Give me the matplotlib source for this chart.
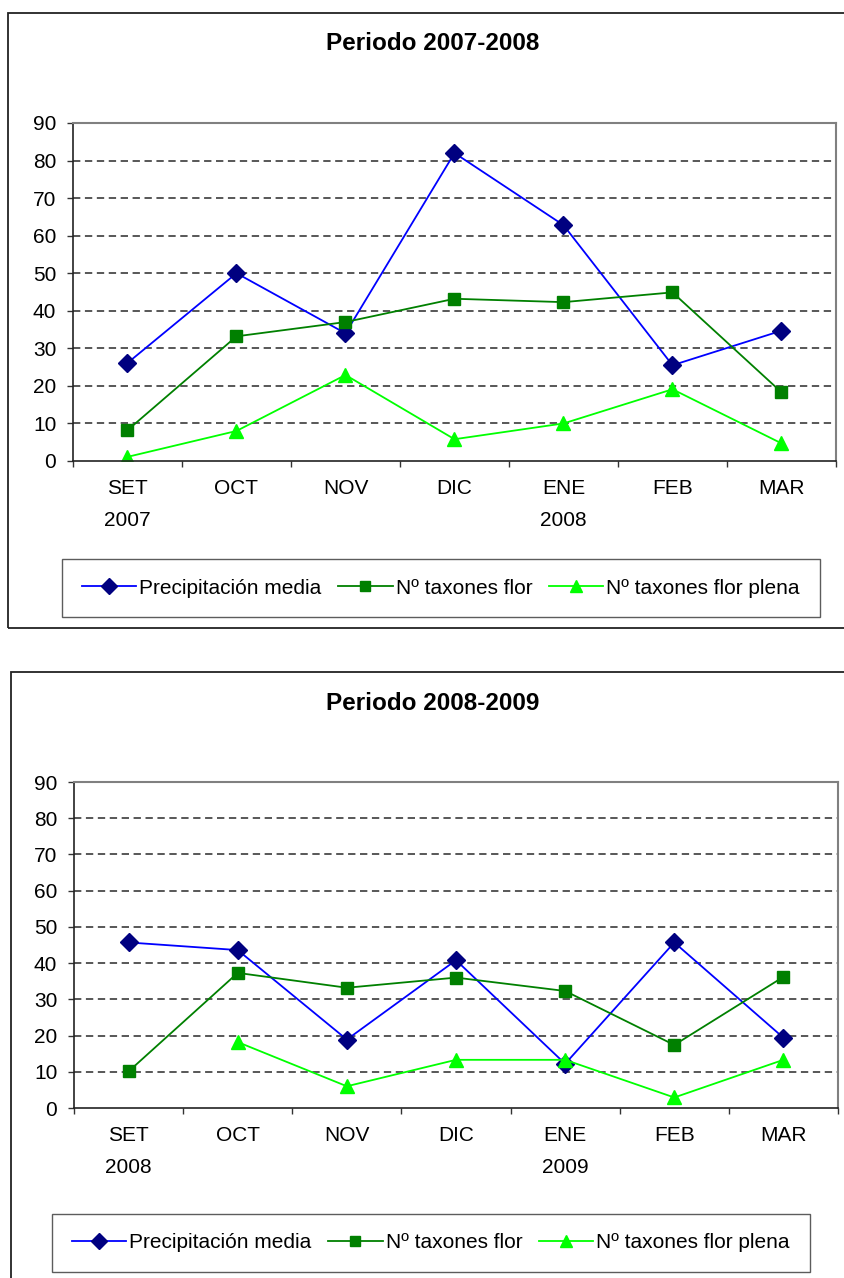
import numpy as np
import matplotlib
matplotlib.use('Agg')
import matplotlib.pyplot as plt
from matplotlib.patches import Rectangle
from matplotlib.ticker import FixedLocator

plt.rcParams['font.family'] = ['Liberation Sans', 'DejaVu Sans']

months = ['SET', 'OCT', 'NOV', 'DIC', 'ENE', 'FEB', 'MAR']
y_ticks = [0, 10, 20, 30, 40, 50, 60, 70, 80, 90]

# Periodo 2007-2008
title_1 = 'Periodo 2007-2008'
years_1 = ['2007', '2008']
precip_1 = [26.1, 50.0, 34.0, 82.0, 62.8, 25.5, 34.7]
flor_1 = [8.2, 33.2, 37.0, 43.2, 42.3, 44.9, 18.3]
plena_1 = [1.1, 8.0, 22.9, 5.8, 10.0, 19.1, 4.7]

# Periodo 2008-2009 (sin dato de flor plena en septiembre)
title_2 = 'Periodo 2008-2009'
years_2 = ['2008', '2009']
precip_2 = [45.7, 43.6, 18.9, 40.8, 12.2, 45.7, 19.4]
flor_2 = [10.1, 37.3, 33.2, 36.0, 32.3, 17.4, 36.2]
plena_2 = [np.nan, 18.2, 6.0, 13.3, 13.3, 2.9, 13.3]

legend_labels = ['Precipitación media', 'Nº taxones flor', 'Nº taxones flor plena']

W, H = 845, 1278
fig = plt.figure(figsize=(W / 100, H / 100), dpi=100)


def px_box(left, top, right, bottom):
    # pixel box (from top-left) -> figure fraction rect
    return [left / W, 1 - bottom / H, (right - left) / W, (bottom - top) / H]


def draw_period(plot_px, frame_px, title, title_y, years, precip, flor, plena, leg_center):
    # chart area frame
    fl, ft, fr, fb = frame_px
    fig.add_artist(Rectangle((fl / W, 1 - fb / H), (fr - fl) / W, (fb - ft) / H,
                             transform=fig.transFigure, fill=False,
                             edgecolor='#222222', linewidth=1.3, clip_on=False))

    ax = fig.add_axes(px_box(*plot_px))
    x = np.arange(len(months))

    l1, = ax.plot(x, precip, color='#0000FF', lw=1.3, marker='D', ms=9,
                  mfc='#000080', mec='#000080')
    l2, = ax.plot(x, flor, color='#008000', lw=1.3, marker='s', ms=8.5,
                  mfc='#008000', mec='#008000')
    l3, = ax.plot(x, plena, color='#00FF00', lw=1.3, marker='^', ms=10,
                  mfc='#00FF00', mec='#00FF00')

    ax.set_xlim(-0.5, len(months) - 0.5)
    ax.set_ylim(0, 90)
    ax.set_yticks(y_ticks)
    ax.set_yticklabels([str(v) for v in y_ticks])
    ax.set_xticks(x)
    ax.set_xticklabels(months)
    ax.xaxis.set_minor_locator(FixedLocator(np.arange(-0.5, len(months), 1.0)))

    ax.tick_params(axis='x', which='major', length=0, pad=13, labelsize=15)
    ax.tick_params(axis='x', which='minor', length=4.5, width=1, color='#333333', direction='out')
    ax.tick_params(axis='y', length=4.5, width=1, color='#333333', direction='out',
                   pad=7.5, labelsize=15)

    for v in y_ticks[1:-1]:
        ax.axhline(v, color='#2a2a2a', lw=1.1, dashes=(4.8, 3), zorder=0)

    for side in ['top', 'right']:
        ax.spines[side].set_color('#808080')
        ax.spines[side].set_linewidth(1.5)
    for side in ['left', 'bottom']:
        ax.spines[side].set_color('#222222')
        ax.spines[side].set_linewidth(1.2)

    # year under SET and ENE
    for xi, yr in zip([0, 4], years):
        ax.annotate(yr, xy=(xi, 0), xycoords=('data', 'axes fraction'),
                    xytext=(0, -43), textcoords='offset points',
                    ha='center', va='center', fontsize=15, annotation_clip=False)

    fig.text(433 / W, 1 - title_y / H, title, ha='center', va='center',
             fontsize=17.5, fontweight='bold')

    leg = fig.legend([l1, l2, l3], legend_labels, loc='center',
                     bbox_to_anchor=(leg_center[0] / W, 1 - leg_center[1] / H),
                     ncol=3, fontsize=15, frameon=True, fancybox=False,
                     edgecolor='#333333', handlelength=2.6, handletextpad=0.15,
                     columnspacing=0.8, borderpad=0.95, borderaxespad=0,
                     markerscale=0.85)
    leg.get_frame().set_linewidth(1.0)
    return ax


draw_period((73, 123, 836, 461), (8, 13, 870, 628), title_1, 44,
            years_1, precip_1, flor_1, plena_1, (441, 588))
draw_period((74, 782, 838, 1108), (11, 672, 870, 1300), title_2, 704,
            years_2, precip_2, flor_2, plena_2, (431, 1243))

fig.savefig('out.png', dpi=100)
